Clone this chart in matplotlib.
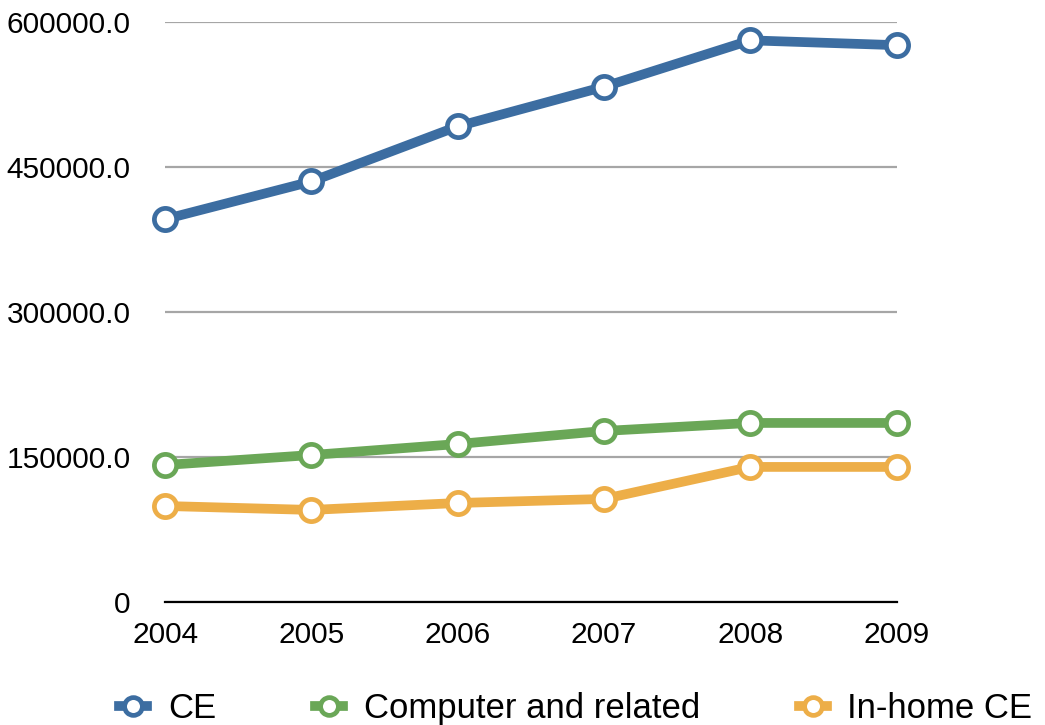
import matplotlib.pyplot as plt

plt.rcParams['font.family'] = ['Liberation Sans', 'DejaVu Sans']

# yearly values per segment
years = [2004, 2005, 2006, 2007, 2008, 2009]
ce = [396000, 435000, 492000, 533000, 581000, 576000]
computer = [141700, 152000, 163400, 176900, 185200, 185200]
inhome = [99300, 95200, 102400, 106600, 139700, 139700]

series_names = ['CE', 'Computer and related', 'In-home CE']
colors = ['#3C6DA1', '#6AA757', '#EDAE48']

y_ticks = [0, 150000, 300000, 450000, 600000]
y_labels = ['0', '150000.0', '300000.0', '450000.0', '600000.0']

fig = plt.figure(figsize=(10.45, 7.25), dpi=100)
ax = fig.add_axes([0.158, 0.1697, 0.700, 0.800])

for vals, name, c in zip([ce, computer, inhome], series_names, colors):
    ax.plot(years, vals, color=c, lw=7, marker='o', ms=16,
            mfc='white', mec=c, mew=3.4, label=name, clip_on=False, zorder=3)

ax.set_xlim(2004, 2009)
ax.set_ylim(0, 600000)
ax.set_xticks(years)
ax.set_xticklabels([str(y) for y in years])
ax.set_yticks(y_ticks)
ax.set_yticklabels(y_labels)
ax.tick_params(axis='both', length=0, labelsize=21.5)
ax.tick_params(axis='y', pad=25)
ax.tick_params(axis='x', pad=14)

ax.grid(axis='y', color='#A6A6A6', lw=1.6)
ax.set_axisbelow(True)
for s in ['left', 'right', 'top']:
    ax.spines[s].set_visible(False)
ax.spines['bottom'].set_linewidth(1.6)
ax.spines['bottom'].set_zorder(2)

fig.legend(loc='lower center', ncol=3, frameon=False, fontsize=25,
           bbox_to_anchor=(0.551, -0.043), handlelength=0.8,
           columnspacing=2.85, handletextpad=0.6, markerscale=0.8)

fig.savefig('out.png', dpi=100)
